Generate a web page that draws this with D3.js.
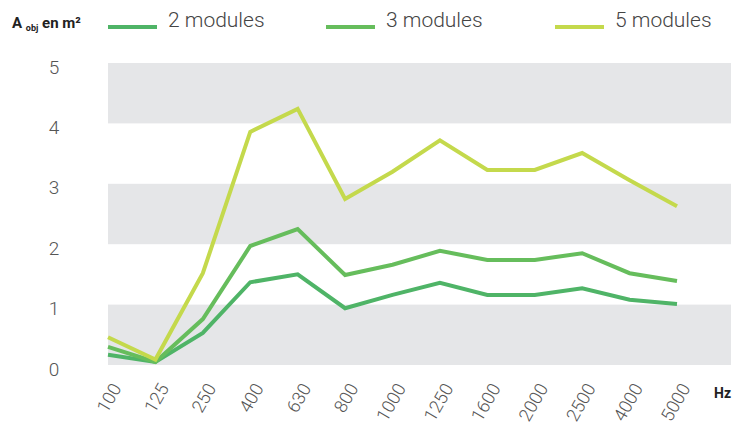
<!DOCTYPE html>
<html>
<head>
<meta charset="utf-8">
<script src="https://cdn.jsdelivr.net/npm/d3@7"></script>
<style>
  body { margin: 0; background: #fff; }
  text { font-family: Roboto, "Open Sans", sans-serif; }
</style>
</head>
<body>
<div id="chart"></div>
<script>
// frequencies (Hz)
var freqs = ["100", "125", "250", "400", "630", "800", "1000", "1250", "1600", "2000", "2500", "4000", "5000"];
// A obj in m²
var mod2 = [0.17, 0.05, 0.53, 1.37, 1.50, 0.94, 1.16, 1.36, 1.16, 1.16, 1.27, 1.08, 1.01];
var mod3 = [0.30, 0.05, 0.76, 1.97, 2.25, 1.49, 1.66, 1.89, 1.74, 1.74, 1.85, 1.52, 1.39];
var mod5 = [0.46, 0.09, 1.52, 3.86, 4.24, 2.75, 3.20, 3.72, 3.23, 3.23, 3.51, 3.06, 2.63];
var seriesNames = ["2 modules", "3 modules", "5 modules"];
var seriesColors = ["#4fb467", "#66bd5c", "#c4d94c"];
var yTicks = [0, 1, 2, 3, 4, 5];

var width = 749, height = 430;

var svg = d3.select("#chart")
  .append("svg")
    .attr("width", width)
    .attr("height", height);

var x = d3.scalePoint()
  .domain(freqs)
  .range([108, 677]);

var y = d3.scaleLinear()
  .domain([0, 5])
  .range([365, 63]);

// grey bands 0-1, 2-3, 4-5
svg.append("g").selectAll("rect")
  .data([0, 2, 4])
  .enter().append("rect")
    .attr("x", 108)
    .attr("width", 731 - 108)
    .attr("y", function(d) { return y(d + 1); })
    .attr("height", function(d) { return y(d) - y(d + 1); })
    .attr("fill", "#e5e6e8");

// y axis labels
var yAxis = svg.append("g")
  .attr("transform", "translate(54,4)")
  .call(d3.axisLeft(y).tickValues(yTicks).tickFormat(d3.format("d")).tickSize(0).tickPadding(0));
yAxis.select(".domain").remove();
yAxis.selectAll("text")
  .attr("text-anchor", "middle")
  .attr("font-size", 19)
  .attr("font-weight", 300)
  .attr("fill", "#555")
  .style("font-family", "Roboto, sans-serif");

// x axis labels, rotated
var xAxis = svg.append("g")
  .attr("transform", "translate(0,385)")
  .call(d3.axisBottom(x).tickSize(0).tickPadding(0));
xAxis.select(".domain").remove();
xAxis.selectAll("text")
  .attr("text-anchor", "end")
  .attr("font-size", 18)
  .attr("font-weight", 300)
  .attr("fill", "#555")
  .attr("dy", "0.35em")
  .attr("transform", "translate(8,0) rotate(-60)")
  .style("font-family", "Roboto, sans-serif");

svg.append("text")
  .attr("x", 714)
  .attr("y", 398)
  .attr("font-size", 14)
  .attr("font-weight", "bold")
  .attr("fill", "#222")
  .text("Hz");

// y title
var title = svg.append("text")
  .attr("x", 12)
  .attr("y", 28)
  .attr("font-size", 15)
  .attr("font-weight", "bold")
  .attr("fill", "#222");
title.append("tspan").text("A ");
title.append("tspan").attr("font-size", 9).attr("dy", 3).text("obj");
title.append("tspan").attr("dy", -3).text(" en m²");

// lines
var line = d3.line()
  .x(function(d, i) { return x(freqs[i]); })
  .y(function(d) { return y(d); });

var data = [mod2, mod3, mod5];
svg.append("g").selectAll("path")
  .data(data)
  .enter().append("path")
    .attr("d", line)
    .attr("fill", "none")
    .attr("stroke", function(d, i) { return seriesColors[i]; })
    .attr("stroke-width", 4)
    .attr("stroke-linejoin", "miter");

// legend
var legX = [108, 326, 555];
var leg = svg.append("g").selectAll("g")
  .data(seriesNames)
  .enter().append("g")
    .attr("transform", function(d, i) { return "translate(" + legX[i] + ",27)"; });
leg.append("line")
  .attr("x1", 0).attr("x2", 49)
  .attr("stroke", function(d, i) { return seriesColors[i]; })
  .attr("stroke-width", 4);
leg.append("text")
  .attr("x", 60)
  .attr("y", 0)
  .attr("font-size", 21)
  .attr("font-weight", 300)
  .attr("fill", "#444")
  .text(function(d) { return d; });
</script>
</body>
</html>
